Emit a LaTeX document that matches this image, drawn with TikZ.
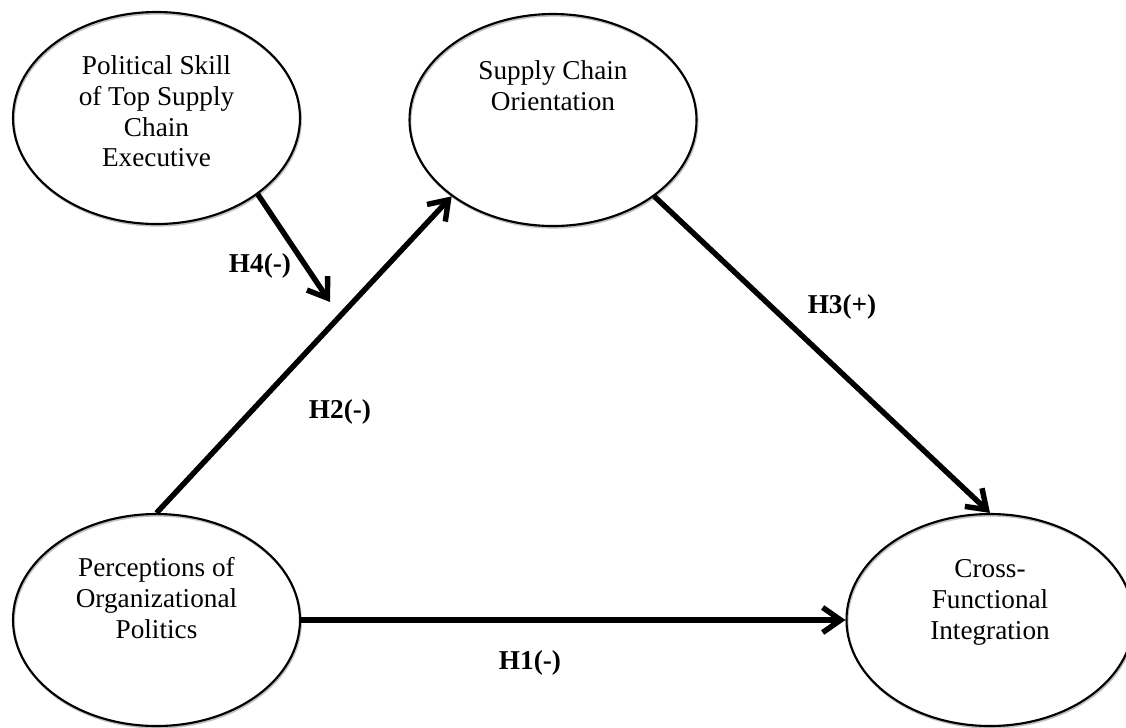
\documentclass[tikz,border=0pt]{standalone}
\usepackage{fontspec}
\setmainfont{Liberation Serif}
\usepackage{tikz}
\usetikzlibrary{arrows.meta,positioning,shapes.geometric,shadows}

\begin{document}
\begin{tikzpicture}[
    latent/.style={ellipse, draw=black, line width=1.2pt, minimum width=5.74cm, minimum height=4.24cm, inner sep=0pt,
      drop shadow={shadow xshift=0.5pt, shadow yshift=-0.9pt, fill=none, opacity=1, draw=black!25, line width=1.2pt}},
    ctext/.style={inner sep=0pt, align=center, font=\fontsize{15.5}{17.6}\selectfont},
    hyp/.style={draw=black, line width=3.1pt, -{Straight Barb[length=3.6mm, width=5mm]},
      preaction={draw=black!25, transform canvas={xshift=0.6pt, yshift=-0.8pt}}},
    hlabel/.style={inner sep=0pt, font=\fontsize{15.5}{17.6}\selectfont\bfseries}
]
\useasboundingbox (0,0) rectangle (22.52,-14.54);

% constructs
\node[latent] (ps) at (3.13,-2.36) {};
\node[ctext, below=0.88cm of ps.north] (pstext) {Political Skill\\of Top Supply\\Chain\\Executive};
\node[latent] (sco) at (11.06,-2.40) {};
\node[ctext, below=0.95cm of sco.north] (scotext) {Supply Chain\\Orientation};
\node[latent] (per) at (3.13,-12.40) {};
\node[ctext, below=0.88cm of per.north] (pertext) {Perceptions of\\Organizational\\Politics};
\node[latent] (cfi) at (19.8,-12.40) {};
\node[ctext, below=0.92cm of cfi.north] (cfitext) {Cross-\\Functional\\Integration};

% paths
\coordinate (h4end) at (6.6,-6.04);
\draw[hyp] (per.east) -- (cfi.west);
\draw[hyp] (per.north) -- (sco.217);
\draw[hyp] (sco.323) -- (cfi.north);
\draw[hyp] (ps.323) -- (h4end);

% hypotheses
\node[hlabel] (h1) at (10.6,-13.26) {H1(-)};
\node[hlabel] (h2) at (6.8,-8.24) {H2(-)};
\node[hlabel] (h3) at (16.84,-6.14) {H3(+)};
\node[hlabel] (h4) at (5.2,-5.32) {H4(-)};
\end{tikzpicture}
\end{document}
